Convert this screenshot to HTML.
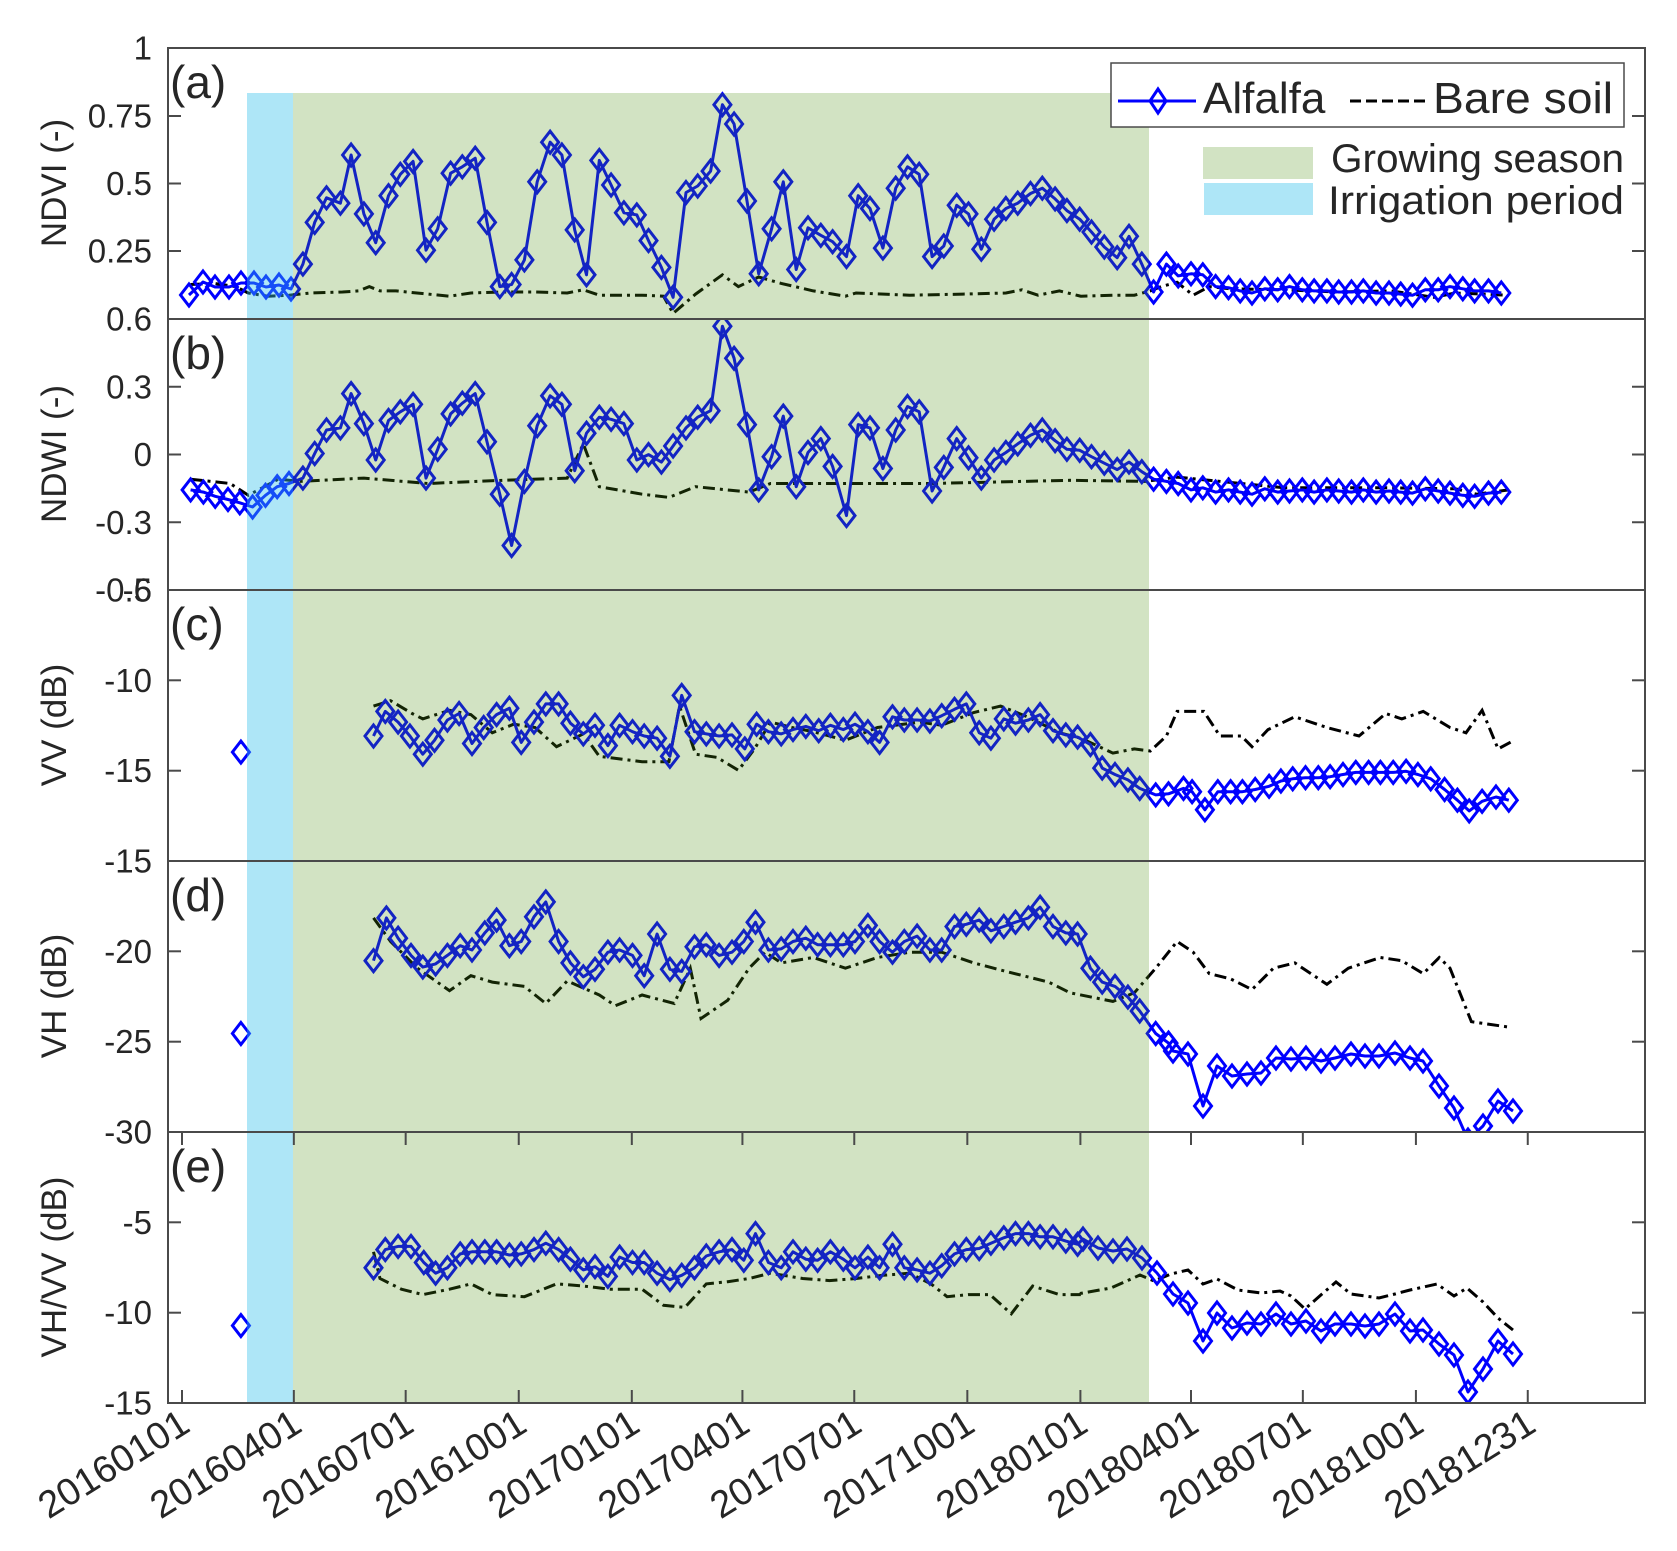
<!DOCTYPE html>
<html><head><meta charset="utf-8"><style>
html,body{margin:0;padding:0;background:#fff;}
svg{display:block;}
text{font-family:"Liberation Sans",Arial,sans-serif;fill:#262626;}
</style></head><body>
<svg id="s" width="1677" height="1551" viewBox="0 0 1677 1551" xmlns="http://www.w3.org/2000/svg">
<defs>
<clipPath id="c0"><rect x="168" y="48" width="1477" height="271"/></clipPath>
<clipPath id="c1"><rect x="168" y="319" width="1477" height="271"/></clipPath>
<clipPath id="c2"><rect x="168" y="590" width="1477" height="271"/></clipPath>
<clipPath id="c3"><rect x="168" y="861" width="1477" height="271"/></clipPath>
<clipPath id="c4"><rect x="168" y="1132" width="1477" height="271"/></clipPath>
</defs>
<rect x="0" y="0" width="1677" height="1551" fill="#fff"/>
<g id="data"></g>
<rect x="247" y="93" width="46" height="1310" fill="rgb(52,192,235)" fill-opacity="0.4"/>
<rect x="293" y="93" width="856" height="1310" fill="rgb(75,143,15)" fill-opacity="0.25"/>
<g id="axes" stroke="#4a4a4a" stroke-width="2" fill="none">
<rect x="168" y="48" width="1477" height="271"/>
<rect x="168" y="319" width="1477" height="271"/>
<rect x="168" y="590" width="1477" height="271"/>
<rect x="168" y="861" width="1477" height="271"/>
<rect x="168" y="1132" width="1477" height="271"/>
</g>
<g id="ticks" stroke="#4a4a4a" stroke-width="2"></g>
<g font-size="33" text-anchor="end" dominant-baseline="central">
<text x="152" y="48">1</text>
<text x="152" y="116">0.75</text>
<text x="152" y="183.5">0.5</text>
<text x="152" y="251">0.25</text>
<text x="152" y="319">0.6</text>
<text x="152" y="386.75">0.3</text>
<text x="152" y="454.5">0</text>
<text x="152" y="522.25">-0.3</text>
<text x="152" y="590">-0.6</text>
<text x="152" y="590">-5</text>
<text x="152" y="680.3">-10</text>
<text x="152" y="770.7">-15</text>
<text x="152" y="861">-15</text>
<text x="152" y="951.3">-20</text>
<text x="152" y="1041.7">-25</text>
<text x="152" y="1132">-30</text>
<text x="152" y="1222.3">-5</text>
<text x="152" y="1312.7">-10</text>
<text x="152" y="1403">-15</text>
</g>
<g font-size="35" text-anchor="middle">
<text transform="translate(66,183) rotate(-90)">NDVI (-)</text>
<text transform="translate(66,454) rotate(-90)">NDWI (-)</text>
<text transform="translate(66,725) rotate(-90)">VV (dB)</text>
<text transform="translate(66,996) rotate(-90)">VH (dB)</text>
<text transform="translate(66,1267) rotate(-90)">VH/VV (dB)</text>
</g>
<g font-size="46" fill="#000">
<text x="170" y="98">(a)</text>
<text x="170" y="369">(b)</text>
<text x="170" y="640">(c)</text>
<text x="170" y="911">(d)</text>
<text x="170" y="1182">(e)</text>
</g>
<g font-size="38" text-anchor="end">
<text transform="translate(192,1430) rotate(-32)">20160101</text>
<text transform="translate(304,1430) rotate(-32)">20160401</text>
<text transform="translate(416,1430) rotate(-32)">20160701</text>
<text transform="translate(529,1430) rotate(-32)">20161001</text>
<text transform="translate(642,1430) rotate(-32)">20170101</text>
<text transform="translate(752,1430) rotate(-32)">20170401</text>
<text transform="translate(864,1430) rotate(-32)">20170701</text>
<text transform="translate(977,1430) rotate(-32)">20171001</text>
<text transform="translate(1090,1430) rotate(-32)">20180101</text>
<text transform="translate(1201,1430) rotate(-32)">20180401</text>
<text transform="translate(1313,1430) rotate(-32)">20180701</text>
<text transform="translate(1426,1430) rotate(-32)">20181001</text>
<text transform="translate(1538,1430) rotate(-32)">20181231</text>
</g>
<rect x="1111" y="63" width="513" height="64" fill="#fff" stroke="#4a4a4a" stroke-width="1.5"/>
<line x1="1118" y1="101" x2="1196" y2="101" stroke="#0000ff" stroke-width="3"/>
<path d="M1158,89 L1166,101 L1158,113 L1150,101 Z" fill="none" stroke="#0000ff" stroke-width="3"/>
<text x="1203" y="113" font-size="44" fill="#000">Alfalfa</text>
<line x1="1350" y1="101" x2="1428" y2="101" stroke="#000" stroke-width="3" stroke-dasharray="11,5"/>
<text x="1433" y="113" font-size="44" fill="#000" textLength="180" lengthAdjust="spacingAndGlyphs">Bare soil</text>
<rect x="1203" y="147" width="110" height="32" fill="rgb(75,143,15)" fill-opacity="0.25"/>
<rect x="1204" y="183" width="109" height="32" fill="rgb(52,192,235)" fill-opacity="0.4"/>
<text x="1331" y="172" font-size="40" fill="#000" textLength="293" lengthAdjust="spacingAndGlyphs">Growing season</text>
<text x="1328" y="214" font-size="40" fill="#000" textLength="296" lengthAdjust="spacingAndGlyphs">Irrigation period</text>
</svg>
<script>
(function(){
var X=function(d){return 182+(d-170)*1.07;}, Y=function(d){return 48+(d-45)*1.07;};
function D(a){var r=[];for(var i=0;i<a.length;i+=2)r.push([X(a[i]),Y(a[i+1])]);return r;}
function O(a){var r=[];for(var i=0;i<a.length;i+=2)r.push([a[i],a[i+1]]);return r;}
var aA=O([189,295,203,282,215,287,229,287,241,283,254,283,266,287,279,285,291,289]).concat(D([283,247,294,208,305,185,318,190,328,145,340,200,351,227,363,183,374,163,386,151,398,234,409,214,421,162,432,156,444,148,455,208,467,268,478,266,490,243,502,170,514,133,525,145,537,215,548,257,560,150,571,173,583,199,595,201,606,225,618,250,629,278,641,180,652,174,664,160,675,98,686,116,698,188,709,256,721,214,732,170,744,252,755,213,767,220,778,226,791,240,802,183,813,195,825,232,837,176,848,156,859,163,871,240,882,230,894,192,905,200,917,233,929,205,940,195,951,190,963,181,974,176,986,186,997,197,1009,205,1020,217,1032,231,1044,241,1055,221,1067,247,1078,273,1090,247,1101,258,1113,256,1124,257,1136,268,1148,269,1159,272,1170,274,1182,270,1194,271,1205,268,1217,271,1228,272,1240,272,1251,273,1263,273,1274,272,1286,274,1298,274,1309,275,1320,276,1332,271,1344,271,1355,268,1367,270,1378,272,1391,272,1403,274]));
var aB=D([178,266,200,265,220,268,232,274,250,277,270,276,290,274,320,273,335,272,345,268,355,272,370,272,400,275,420,277,440,274,470,273,500,273,530,274,545,271,560,276,600,276,620,277,629,293,650,275,675,257,690,268,709,259,730,265,760,272,790,277,800,274,850,276,900,275,940,274,955,271,970,276,990,272,1010,277,1040,276,1060,276,1075,272,1085,268,1100,264,1115,276,1130,268,1150,270,1200,271,1250,273,1300,272,1340,278,1360,274,1410,276]);
var bA=D([178,458,190,460,201,464,213,467,224,470,236,474,248,463,259,455,270,452,283,447,294,424,305,402,318,400,328,368,340,396,351,430,363,393,374,385,386,378,398,447,409,420,421,387,432,377,444,368,455,413,467,462,478,510,490,450,502,398,514,370,525,378,537,440,548,405,560,390,571,392,583,396,595,430,606,425,618,432,629,417,641,400,652,390,664,384,675,305,686,335,698,397,709,458,721,427,732,389,744,455,755,423,767,410,778,436,791,482,802,397,813,400,825,438,837,402,848,380,859,385,871,459,882,437,894,410,905,428,917,447,929,430,940,423,951,415,963,407,974,402,986,412,997,420,1009,421,1020,427,1032,433,1044,439,1055,432,1067,441,1078,448,1090,450,1101,452,1113,458,1124,456,1136,460,1148,458,1159,460,1170,462,1182,457,1194,460,1205,459,1217,458,1228,460,1240,458,1251,459,1263,460,1274,458,1286,460,1298,459,1309,460,1320,461,1332,457,1344,459,1355,461,1367,463,1378,464,1391,461,1403,460]);
var bB=D([178,448,215,452,232,463,260,448,280,450,340,447,400,452,470,449,530,447,545,415,560,455,600,462,625,465,650,455,700,460,720,452,780,452,870,452,1000,449,1070,450,1100,446,1200,456,1300,456,1360,457,1380,462,1410,458]);
var cA=D([349,688,360,665,372,675,383,688,395,705,406,692,418,673,429,667,441,695,452,680,464,668,476,662,487,694,499,675,510,658,522,658,533,676,545,686,556,678,568,697,579,678,591,684,602,688,614,690,626,707,637,650,649,684,660,686,672,688,684,687,696,700,707,677,718,684,730,686,741,682,753,679,765,683,776,678,788,682,799,677,811,684,822,694,834,670,845,673,857,673,869,674,880,669,892,663,903,658,915,685,926,690,938,672,949,676,961,673,972,668,984,683,996,687,1007,689,1019,696,1030,718,1042,724,1054,729,1065,737,1080,743,1092,742,1106,737,1114,740,1126,757,1138,740,1150,740,1161,740,1173,738,1186,735,1197,730,1208,728,1220,727,1232,727,1243,726,1255,724,1267,722,1279,722,1290,722,1302,722,1314,721,1325,724,1337,728,1350,738,1362,748,1373,758,1385,749,1398,745,1410,748]);
var cB=D([349,660,365,655,385,667,395,672,420,664,440,668,460,685,480,677,500,680,520,698,545,686,560,707,600,712,625,712,635,660,650,705,670,708,690,720,705,700,720,675,740,680,760,684,790,692,820,680,860,675,880,678,910,666,935,660,960,670,990,685,1010,690,1040,704,1060,700,1075,702,1090,688,1100,665,1125,665,1140,688,1160,688,1170,698,1185,682,1210,670,1240,680,1270,688,1295,667,1310,672,1330,665,1355,680,1370,685,1385,664,1400,700,1415,692]);
var dA=D([349,898,361,858,372,877,384,893,395,904,407,901,418,893,430,884,441,888,453,872,464,860,476,884,487,880,499,857,510,843,522,880,533,900,545,913,556,906,568,890,579,888,591,893,602,912,614,873,626,906,637,908,649,885,660,883,672,893,684,890,695,880,706,862,718,888,730,887,741,880,753,877,764,883,776,883,788,883,799,880,811,865,822,880,834,890,845,880,857,875,869,888,880,888,892,866,903,864,915,860,926,870,938,866,949,862,961,858,972,848,984,866,996,872,1007,873,1019,905,1030,918,1042,922,1054,932,1065,945,1080,966,1092,975]).concat(O([1173,1051,1188,1054,1203,1106,1217,1066,1232,1076,1247,1074,1261,1073,1276,1058,1291,1059,1306,1058,1321,1061,1335,1058,1351,1054,1365,1056,1379,1056,1395,1053,1410,1058,1423,1061,1439,1086,1454,1108,1468,1140,1483,1126,1498,1101,1513,1111]));
var dB=D([349,858,365,880,390,905,420,926,440,912,460,918,490,922,510,938,530,917,560,930,575,940,600,930,630,938,645,905,655,952,680,935,700,905,715,890,730,900,760,895,790,905,820,895,850,890,880,890,910,900,940,908,980,918,1000,928,1040,936,1060,928,1080,905,1100,880,1115,890,1130,910,1150,915,1170,925,1190,905,1210,900,1240,920,1260,905,1290,895,1310,898,1330,910,1345,895,1355,905,1375,955,1410,960]);
var eA=D([349,1185,360,1168,372,1165,384,1165,396,1180,407,1190,418,1185,430,1172,441,1170,453,1170,464,1170,476,1173,487,1172,499,1168,510,1162,522,1168,533,1177,545,1187,556,1184,568,1193,579,1175,591,1180,602,1180,614,1190,626,1196,637,1192,649,1185,660,1174,672,1170,684,1168,695,1178,706,1153,718,1180,730,1185,741,1170,753,1177,764,1178,776,1170,788,1177,799,1185,811,1175,822,1185,834,1163,845,1185,857,1187,869,1190,880,1183,892,1172,903,1168,915,1167,926,1162,938,1157,949,1153,961,1153,972,1156,984,1156,996,1160,1007,1163]).concat(O([1083,1239,1098,1248,1113,1251,1127,1249,1142,1258,1157,1273,1173,1294,1188,1303,1203,1341,1217,1313,1232,1328,1247,1323,1261,1324,1276,1314,1291,1324,1306,1321,1321,1331,1335,1324,1351,1324,1365,1326,1379,1324,1395,1314,1410,1331,1423,1330,1439,1344,1454,1355,1468,1392,1483,1369,1498,1341,1513,1354]));
var eB=D([349,1170,355,1195,375,1205,395,1210,420,1205,440,1200,460,1210,490,1212,520,1200,545,1202,570,1205,600,1205,620,1220,640,1222,660,1200,680,1198,700,1195,720,1190,750,1195,775,1197,800,1195,825,1192,850,1190,870,1200,885,1212,905,1210,925,1210,945,1228,965,1202,990,1210,1010,1210]).concat(O([1077,1294,1111,1288,1140,1275,1154,1281,1171,1274,1188,1270,1203,1284,1217,1279,1238,1290,1261,1293,1280,1291,1291,1296,1305,1309,1322,1294,1336,1282,1351,1294,1379,1298,1395,1294,1410,1290,1437,1284,1454,1296,1467,1288,1483,1302,1498,1318,1513,1330]));
function path(p){return p.map(function(q,i){return (i?'L':'M')+q[0].toFixed(1)+','+q[1].toFixed(1);}).join('');}
function marks(p){return p.map(function(q){var x=q[0],y=q[1];return 'M'+x.toFixed(1)+','+(y-11).toFixed(1)+'L'+(x+8.5).toFixed(1)+','+y.toFixed(1)+'L'+x.toFixed(1)+','+(y+11).toFixed(1)+'L'+(x-8.5).toFixed(1)+','+y.toFixed(1)+'Z';}).join('');}
var iso=[[240.9,Y(703)],[240.9,Y(966)],[240.9,Y(1239)]];
var panels=[[aA,aB,null],[bA,bB,null],[cA,cB,iso[0]],[dA,dB,iso[1]],[eA,eB,iso[2]]];
var h='';
panels.forEach(function(P,i){
 h+='<g clip-path="url(#c'+i+')">';
 h+='<path d="'+path(P[1])+'" fill="none" stroke="#000" stroke-width="3" stroke-dasharray="12,5,3,5"/>';
 h+='<path d="'+path(P[0])+'" fill="none" stroke="#0000ff" stroke-width="3" stroke-linejoin="round"/>';
 var m=P[0].slice(); if(P[2]) m.push(P[2]);
 h+='<path d="'+marks(m)+'" fill="none" stroke="#0000ff" stroke-width="3"/>';
 h+='</g>';
});
document.getElementById('data').innerHTML=h;
var t='';
var yt=[[116,183.5,251],[386.75,454.5,522.25],[680.3,770.7],[951.3,1041.7],[1222.3,1312.7]];
yt.forEach(function(a){a.forEach(function(y){t+='<line x1="168" y1="'+y+'" x2="181" y2="'+y+'"/><line x1="1632" y1="'+y+'" x2="1645" y2="'+y+'"/>';});});
[0,91,182,274,366,456,547,639,731,821,912,1004,1095].forEach(function(d){var x=182+d*1.229;t+='<line x1="'+x+'" y1="1403" x2="'+x+'" y2="1390"/><line x1="'+x+'" y1="1132" x2="'+x+'" y2="1145"/>';});
document.getElementById('ticks').innerHTML=t;
})();
</script>
</body></html>
